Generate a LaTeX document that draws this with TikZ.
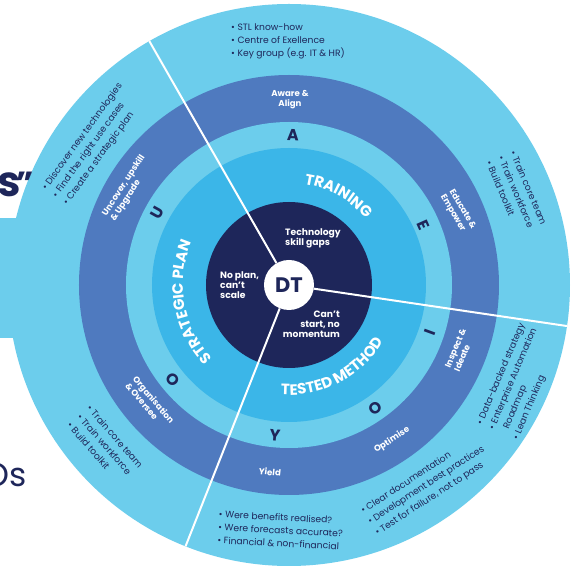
\documentclass[tikz,border=0pt]{standalone}
\usepackage{fontspec}
\setmainfont{Poppins}
\usetikzlibrary{decorations.text}
\definecolor{lightb}{RGB}{108,205,236}
\definecolor{midb}{RGB}{79,122,191}
\definecolor{brightb}{RGB}{59,182,232}
\definecolor{navy}{RGB}{30,38,90}
\newcommand\ringfont{\fontsize{15}{15}\selectfont\bfseries}
\tikzset{
  bul/.style={font=\fontsize{9.2}{13}\selectfont, text=navy, align=left, inner sep=0pt, anchor=west},
  bandlbl/.style={font=\fontsize{8.6}{10}\selectfont\bfseries, text=white, align=center, inner sep=0pt},
  letter/.style={font=\fontsize{16}{16}\selectfont\bfseries, text=navy, inner sep=0pt},
  core/.style={font=\fontsize{9.2}{9.9}\selectfont\bfseries, text=white, inner sep=0pt},
  sep/.style={draw=white, line width=2pt},
}
\newcommand\bl{•\hspace{2.6pt}}
\begin{document}
\begin{tikzpicture}[x=1pt,y=1pt]
\useasboundingbox (-289,-282) rectangle (290,285);
\fill[white] (-289,-282) rectangle (290,285);
% left tab band
\fill[lightb] (-289,67) rectangle (-200,-53);
% rings
\fill[lightb] (0,0) circle (281pt);
\fill[midb] (0,0) circle (210pt);
\fill[lightb] (0,0) circle (163pt);
\fill[brightb] (0,0) circle (137pt);
\fill[navy] (0,0) circle (83pt);
% centre
\node[circle, fill=white, minimum size=50pt, inner sep=0pt, font=\fontsize{21}{21}\selectfont\bfseries, text=navy] (dt) at (0,0) {DT};
\coordinate (e1) at (119.8:281pt);
\coordinate (e2) at (-8.4:281pt);
\coordinate (e3) at (-111.6:281pt);
\draw[sep] (dt) -- (e1);
\draw[sep] (dt) -- (e2);
\draw[sep] (dt) -- (e3);
% curved headings
\path[decorate, decoration={text along path, text={|\ringfont|TRAINING}, text align=center, text color=white}]
  (112:102pt) arc[start angle=112, end angle=10, radius=102pt];
\path[decorate, decoration={text along path, text={|\ringfont|STRATEGIC PLAN}, text align=center, text color=white}]
  (250:106pt) arc[start angle=250, end angle=130, radius=106pt];
\path[decorate, decoration={text along path, text={|\ringfont|TESTED METHOD}, text align=center, text color=white}]
  (-122.5:110pt) arc[start angle=-122.5, end angle=-2.5, radius=110pt];
% core texts
\node[core, align=left, anchor=west] (c1) at (-4,47) {Technology\\skill gaps};
\node[core, align=left, anchor=west] (c2) at (-69,0) {No plan,\\can’t\\scale};
\node[core, align=right, anchor=east] (c3) at (51,-39) {Can’t\\start, no\\momentum};
% band labels
\node[bandlbl] (aa) at (1,185) {Aware \&\\Align};
\node[bandlbl, align=left, rotate=-60] (ee) at (169,73) {Educate \&\\Empower};
\node[bandlbl, align=left, rotate=57] (uu) at (-161,97) {Uncover, upskill\\\& Upgrade};
\node[bandlbl, align=left, rotate=-50] (oo) at (-139,-118) {Organisation\\\& Oversee};
\node[bandlbl, rotate=-6] (yy) at (-19,-187) {Yield};
\node[bandlbl, rotate=33] (op) at (103,-155) {Optimise};
\node[bandlbl, align=left, rotate=67] (ii) at (171,-65) {Inspect \&\\Ideate};
% letters
\node[letter, rotate=-2] (la) at (4,150) {A};
\node[letter, rotate=-66] (le) at (134,60) {E};
\node[letter, rotate=70] (li) at (141,-47) {I};
\node[letter, rotate=35] (lo1) at (86,-123) {O};
\node[letter, rotate=-5] (ly) at (-14,-150) {Y};
\node[letter, rotate=-50] (lo2) at (-116,-95) {O};
\node[letter, rotate=61] (lu) at (-132,72) {U};
% outer bullet lists
\node[bul] (tb) at (-58,244) {\bl STL know-how\\\bl Centre of Exellence\\\bl Key group (e.g. IT \& HR)};
\node[bul, rotate=-67] (ru) at (212,129) {\bl Train core team\\\bl Train workforce\\\bl Build toolkit};
\node[bul, rotate=54] (ul) at (-234,88) {\bl Discover new technologies\\\bl Find the right use cases\\\bl Create a strategic plan};
\node[bul, rotate=-49] (ll) at (-210,-130) {\bl Train core team\\\bl Train workforce\\\bl Build toolkit};
\node[bul, rotate=-3] (bt) at (-71,-242) {\bl Were benefits realised?\\\bl Were forecasts accurate?\\\bl Financial \& non-financial};
\node[bul, rotate=33] (br) at (80,-238) {\bl Clear documentation\\\bl Development best practices\\\bl Test for failure, not to pass};
\node[bul, rotate=67] (rl) at (209,-147) {\bl Data-backed strategy\\\bl Enterprise Automation\\\phantom{\bl}Roadmap\\\bl Lean Thinking};
% cut-off slide texts
\node[anchor=base west, font=\fontsize{42}{42}\selectfont\bfseries, text=navy, inner sep=0pt] (ss) at (-292,88) {s};
\node[anchor=north west, font=\fontsize{32}{32}\selectfont\bfseries, text=navy, inner sep=0pt] (qq) at (-273,113) {”};
\node[anchor=base east, font=\fontsize{33}{33}\selectfont, text=navy, inner sep=0pt] (os) at (-262,-202) {Os};
\end{tikzpicture}
\end{document}
